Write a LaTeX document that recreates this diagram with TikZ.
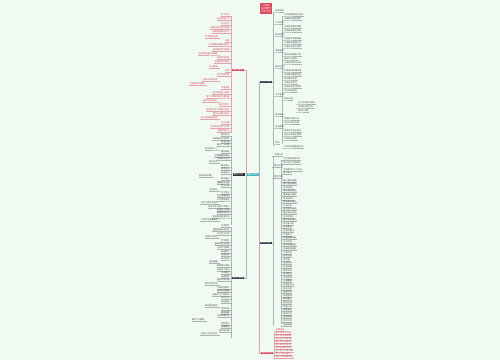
\documentclass[tikz,border=0pt]{standalone}
\usepackage{fontspec}
\newfontfamily\cjk{Noto Sans CJK SC}
\usetikzlibrary{positioning}
\definecolor{bgcol}{RGB}{241,250,242}
\definecolor{mapred}{RGB}{222,76,96}
\definecolor{redtxt}{RGB}{200,62,82}
\definecolor{mapnavy}{RGB}{44,58,76}
\definecolor{mapteal}{RGB}{62,184,196}
\definecolor{linkgray}{RGB}{168,182,178}
\definecolor{linkpink}{RGB}{232,162,172}
\tikzset{
  branch/.style={font=\cjk\fontsize{2.5}{3}\selectfont,text=white,inner xsep=0.8pt,
    inner ysep=0.3pt,minimum width=12pt,minimum height=2.8pt},
  leaf/.style={font=\cjk\fontsize{2.1}{2.5}\selectfont,inner sep=0.25pt,text=black!70},
  redleaf/.style={leaf,text=redtxt},
  boxleaf/.style={leaf,fill=black!9},
  link/.style={draw=linkgray,line width=0.3pt},
  redlink/.style={draw=linkpink,line width=0.3pt},
}

\begin{document}
\begin{tikzpicture}[x=1pt,y=-1pt]
% Page and background
\useasboundingbox (0,0) rectangle (500,360);
\fill[bgcol] (0,0) rectangle (500,360);

% Title box
\node[branch,fill=mapred,align=center,font=\cjk\fontsize{2.3}{3}\selectfont,
  minimum height=11pt] (title) at (266,8.5) {二年级\\语文教学\\工作计划};

% Centre and main branches
\node[branch,fill=mapteal] (ctr) at (252.5,174.3) {教学计划};
\node[branch,fill=mapred] (left1) at (238,70) {教学要求};
\node[branch,fill=black!85] (left2) at (238.5,174.3) {教材分析};
\node[branch,fill=mapnavy] (left3) at (238,278) {教学措施};
\node[branch,fill=mapnavy] (right1) at (265.5,82) {工作计划};
\node[branch,fill=mapnavy] (right2) at (265.5,243) {教学内容};
\node[branch,fill=mapred] (right3) at (267,353) {进度安排};

\draw[redlink] (ctr.west) |- (left1.east);
\draw[link] (ctr.west) |- (left3.east);
\draw[link] (ctr.east) -- ++(0.5,0) |- (right1.west);
\draw[link] (ctr.east) -- ++(0.5,0) |- (right2.west);
\draw[redlink] (ctr.east) -- ++(0.5,0) |- (right3.west);

% Right branch 1
\draw[link] (right1.east) -- (273,82);
\draw[link] (273,12) -- (273,146);
\draw[link] (282,16) -- (282,144);
\foreach \x/\t [count=\i] in {275/指导思想,284/以新课程标准为指导,284/全面推进素质教育,
  275/工作目标,284/全面提高教学质量,284/提高课堂教学效率,275/具体措施,
  284/加强教学常规管理,284/认真做好备课工作,284/注重学生能力培养,275/课堂教学,
  284/落实课后辅导工作,284/做好作业批改,284/认真组织单元测试,275/教研活动,
  284/积极参加听课评课,284/开展集体备课活动,284/撰写教学反思,284/加强业务学习,
  284/提高自身专业素养,284/参加各级培训,275/学生管理,284/培优补差,
  298/关注学困生的转化,298/发展优等生特长,298/重视中等生,275/家校联系,
  284/定期召开家长会,284/及时与家长沟通,275/安全教育,284/增强学生安全意识,
  284/做好日常安全管理,284/开展安全演练,275/其他,284/完成学校布置的任务}{
  \pgfmathsetmacro\yy{8+4*\i}
  \node[leaf,anchor=south west] (r1\i) at (\x,\yy) {\t};
  \draw[link] (\x-2,\yy) -- (r1\i.south west) -- (r1\i.south east);
}

% Right branch 2
\draw[link] (right2.east) -- (273,243);
\draw[link] (273,156) -- (273,326);
\draw[link] (281,160) -- (281,324);
\foreach \x/\s/\t [count=\i] in {274/leaf/学情分析,283/leaf/学生基础参差不齐,
  283/leaf/部分学生习惯较差,274/leaf/教材分析,283/leaf/本册教材共八个单元,
  283/leaf/重点难点,274/leaf/教学内容,283/boxleaf/第一单元 识字,
  283/boxleaf/第二单元 课文,283/leaf/语文园地一,283/boxleaf/第三单元 识字,
  283/boxleaf/第四单元 课文,283/leaf/语文园地二,283/boxleaf/第五单元 课文,
  283/leaf/口语交际,283/boxleaf/第六单元 课文,283/boxleaf/第七单元 识字,
  283/leaf/语文园地三,283/boxleaf/第八单元 课文,283/leaf/快乐读书吧,
  283/boxleaf/拼音复习,283/boxleaf/生字词复习,283/leaf/写话练习,
  283/boxleaf/阅读理解训练,283/leaf/古诗背诵,283/boxleaf/课外阅读指导,
  283/boxleaf/口语交际训练,283/leaf/书写指导,283/boxleaf/识字方法,
  283/leaf/查字典,283/boxleaf/标点符号,283/boxleaf/句子训练,283/leaf/看图写话,
  283/boxleaf/日记练习,283/leaf/成语积累,283/boxleaf/儿歌童谣,
  283/boxleaf/综合性学习,283/leaf/单元测试,283/boxleaf/试卷讲评,
  283/leaf/错题整理,283/boxleaf/期中复习,283/boxleaf/期中检测,
  283/leaf/质量分析,283/boxleaf/期末复习,283/leaf/期末检测,
  283/boxleaf/学期总结,283/leaf/经验交流,283/boxleaf/反思改进}{
  \pgfmathsetmacro\yy{153+3.6*\i}
  \node[\s,anchor=south west] (r2\i) at (\x,\yy) {\t};
  \draw[link] (\x-2,\yy) -- (r2\i.south west) -- (r2\i.south east);
}

% Right branch 3
\draw[redlink] (right3.east) -- (274,353);
\draw[redlink] (274,331) -- (274,358);
\foreach \t [count=\i] in {学期安排,第一周 开学准备,第二周 常规训练,
  第三至六周 新课,第七周 单元复习,第八周 期中复习,第九周 期中考试,
  第十至十七周 新课,第十八周 总复习,第十九周 期末考试}{
  \pgfmathsetmacro\yy{328+3*\i}
  \node[redleaf,anchor=south west] (r3\i) at (275.5,\yy) {\t};
  \draw[redlink] (274,\yy) -- (r3\i.south west) -- (r3\i.south east);
}

% Left branch 1
\draw[redlink] (left1.west) -- (231,70);
\draw[redlink] (231,16) -- (231,132);
\foreach \x/\t [count=\i] in {230/识字写字,230/认识常用汉字,230/会写生字,
  230/掌握汉字的基本笔画,230/能按笔顺规则写字,218/写字姿势正确,230/阅读,
  230/学习用普通话朗读课文,230/能正确流利地朗读,218/初步体会课文的情感,
  230/积累优美词语,230/背诵指定的课文,218/学习默读,230/写话,
  230/对写话有兴趣,218/写自己想说的话,205/写想象中的事物,230/口语交际,
  230/能认真听别人讲话,230/努力了解讲话的主要内容,218/有表达的自信心,
  230/综合性学习,230/结合语文学习观察大自然,230/用口头或图文表达,
  218/热心参加校园活动,230/学习习惯,230/养成良好的学习习惯,230/认真完成作业}{
  \pgfmathsetmacro\yy{12+4.3*\i}
  \node[redleaf,anchor=south east] (l1\i) at (\x,\yy) {\t};
  \draw[redlink] (\x+1.5,\yy) -- (l1\i.south east) -- (l1\i.south west);
}

% Left branch 2
\draw[link] (left2.west) -- (231,174.3);
\draw[link] (231,136) -- (231,225);
\foreach \x/\s/\t [count=\i] in {230/leaf/教材特点,230/leaf/本册教材共有课文,
  230/boxleaf/识字八课,230/leaf/课文二十四篇,218/leaf/语文园地八个,
  230/leaf/教材编排,230/boxleaf/以专题组织单元,230/leaf/内容贴近生活,
  218/leaf/图文并茂,230/leaf/教学重点,230/boxleaf/识字写字,
  230/leaf/朗读课文,212/leaf/培养阅读兴趣,230/leaf/教学难点,
  230/boxleaf/理解课文内容,230/leaf/写话训练,218/leaf/口语表达,
  230/leaf/学生情况,230/boxleaf/学生活泼好动,230/leaf/识字量有差异,
  218/leaf/书写习惯有待提高,230/leaf/部分学生注意力不集中,
  230/boxleaf/阅读能力较弱,230/leaf/需要加强引导,230/leaf/家长重视程度不同,
  218/leaf/个别学生需要帮助}{
  \pgfmathsetmacro\yy{133+3.4*\i}
  \node[\s,anchor=south east] (l2\i) at (\x,\yy) {\t};
  \draw[link] (\x+1.5,\yy) -- (l2\i.south east) -- (l2\i.south west);
}

% Left branch 3
\draw[link] (left3.west) -- (231,278);
\draw[link] (231,228) -- (231,338);
\foreach \x/\s/\t [count=\i] in {230/leaf/识字教学,230/boxleaf/运用多种识字方法,
  230/leaf/在生活中识字,218/leaf/开展识字游戏,230/leaf/写字教学,
  230/boxleaf/每天练字十分钟,230/leaf/注意写字姿势,230/leaf/阅读教学,
  230/boxleaf/以读为本,230/leaf/读中感悟,218/boxleaf/读中积累,
  230/leaf/推荐课外读物,230/leaf/开展读书活动,230/leaf/写话教学,
  230/boxleaf/从说到写,230/leaf/激发写话兴趣,218/leaf/展示优秀作品,
  230/leaf/口语交际教学,230/boxleaf/创设交际情境,230/leaf/鼓励学生大胆表达,
  230/leaf/评价方式,230/boxleaf/多元评价,218/leaf/及时鼓励表扬,
  230/leaf/培优补差,230/boxleaf/因材施教,230/leaf/分层布置作业,
  205/leaf/课后个别辅导,230/leaf/家校合作,230/boxleaf/定期家访,
  230/leaf/建立家长群,218/leaf/共同关注学生成长}{
  \pgfmathsetmacro\yy{224+3.6*\i}
  \node[\s,anchor=south east] (l3\i) at (\x,\yy) {\t};
  \draw[link] (\x+1.5,\yy) -- (l3\i.south east) -- (l3\i.south west);
}
\end{tikzpicture}
\end{document}
